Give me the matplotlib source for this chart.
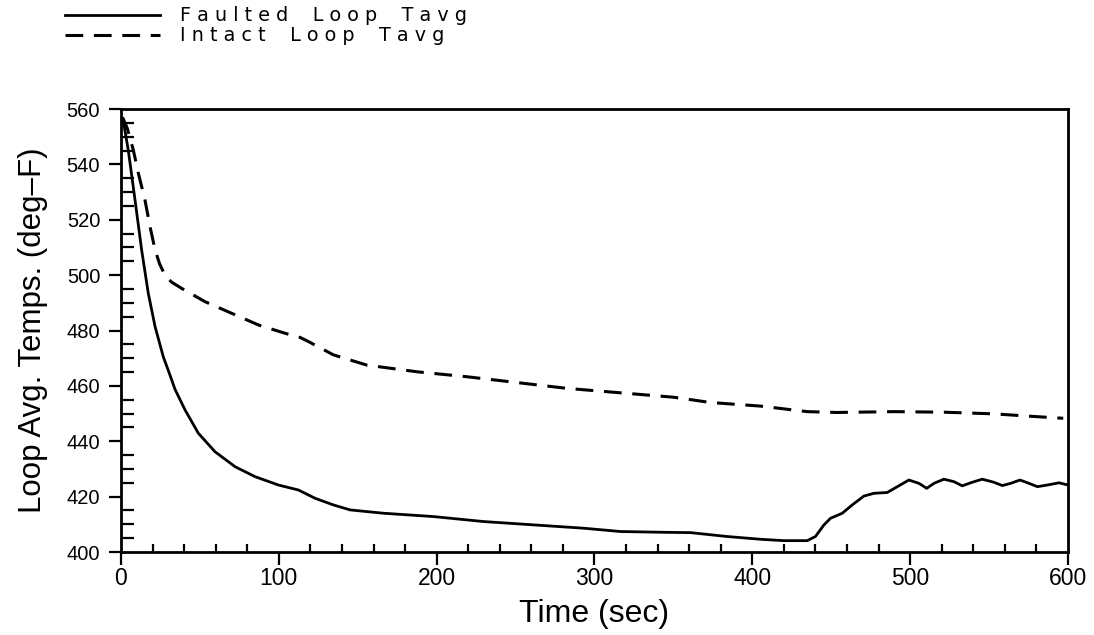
import matplotlib
matplotlib.use('Agg')
import matplotlib.pyplot as plt
from matplotlib.ticker import MultipleLocator

# Valores
t_faulted = [0, 1.5, 4.6, 8.9, 13.1, 17.3, 21.6, 26.8, 31.1, 34.2, 40.6, 49, 59.6,
             72.3, 85, 99.7, 112.4, 123, 134.6, 145.2, 166.3, 198, 229.7, 261.4,
             293, 316.4, 346, 360.8, 384, 405.2, 420, 434.8, 440, 445.4, 449.6,
             457, 463.3, 470.7, 477, 485.5, 491.9, 499.2, 505.6, 510.5, 515.1,
             521.4, 527.8, 533, 539.4, 545.7, 553, 558.4, 563.7, 569.6, 575.3,
             580.6, 587, 594.4, 600]
tavg_faulted = [557, 555.5, 545.2, 527.1, 509, 493.4, 481.4, 470.5, 463.8, 458.8,
                451.3, 442.9, 436.2, 430.8, 427.2, 424.2, 422.4, 419.4, 417, 415.2,
                414, 412.8, 411, 409.8, 408.6, 407.4, 407.1, 407, 405.6, 404.6,
                404.1, 404.1, 405.6, 409.8, 412.2, 414, 417, 420.2, 421.2, 421.5,
                423.6, 426, 424.8, 423, 424.8, 426.3, 425.4, 423.9, 425.2, 426.3,
                425.2, 424, 424.8, 426, 424.8, 423.6, 424.2, 425, 424.2]

t_intact = [1, 4, 7.8, 11, 15.2, 18.4, 21.6, 24.5, 27.9, 32, 38.5, 53.3, 70.2,
            87.1, 104, 113.5, 118.8, 134.6, 155.8, 187.5, 219.2, 250.9, 282.6,
            314.3, 350.2, 373.5, 405.2, 434.8, 453.8, 489.7, 521.4, 553.1, 574.3,
            597]
tavg_intact = [557, 553, 545.2, 536.8, 527.1, 517.5, 509.1, 504, 500, 497.5, 495.2,
               490.4, 486.2, 482, 479, 477.5, 476, 471.2, 467.5, 465.1, 463.3,
               461.2, 459.1, 457.6, 455.9, 454, 452.7, 450.7, 450.4, 450.7, 450.5,
               449.9, 449.1, 448.3]

labels = ['F a u l t e d    L o o p    T a v g', 'I n t a c t    L o o p    T a v g']

narrow = ['Liberation Sans Narrow', 'Liberation Sans', 'DejaVu Sans']

fig = plt.figure(figsize=(10.94, 6.35), dpi=100)
ax = fig.add_axes([0.1106, 0.1307, 0.8656, 0.6976])

l1, = ax.plot(t_faulted, tavg_faulted, color='black', lw=2.0)
l2, = ax.plot(t_intact, tavg_intact, color='black', lw=2.2, dashes=(5.8, 3.5))

ax.set_xlim(0, 600)
ax.set_ylim(400, 560)
ax.xaxis.set_major_locator(MultipleLocator(100))
ax.xaxis.set_minor_locator(MultipleLocator(20))
ax.yaxis.set_major_locator(MultipleLocator(20))
ax.yaxis.set_minor_locator(MultipleLocator(5))

ax.tick_params(which='major', direction='out', length=9, width=1.6)
ax.tick_params(which='minor', direction='in', width=1.6)
ax.tick_params(axis='y', which='minor', length=9)
ax.tick_params(axis='x', which='minor', length=6)
ax.tick_params(axis='x', which='major', pad=2)
ax.tick_params(axis='y', which='major', pad=6)

for lab in ax.get_xticklabels():
    lab.set_family(narrow)
    lab.set_fontsize(16.5)
for lab in ax.get_yticklabels():
    lab.set_family(['Liberation Sans', 'DejaVu Sans'])
    lab.set_fontsize(14.5)

for s in ax.spines.values():
    s.set_linewidth(2.0)

ax.set_xlabel('Time (sec)', family=narrow, fontsize=23)
ax.set_ylabel('Loop Avg. Temps. (deg–F)', family=narrow, fontsize=22.5)
ax.xaxis.set_label_coords(0.5, -0.105)
ax.yaxis.set_label_coords(-0.077, 0.5)

fig.legend([l1, l2], labels, loc='upper left', bbox_to_anchor=(0.059, 0.99),
           frameon=False, borderpad=0, borderaxespad=0, handlelength=5.0,
           handletextpad=1.0, labelspacing=0.05,
           prop={'family': 'DejaVu Sans', 'size': 13.8})

fig.savefig('out.png', dpi=100)
